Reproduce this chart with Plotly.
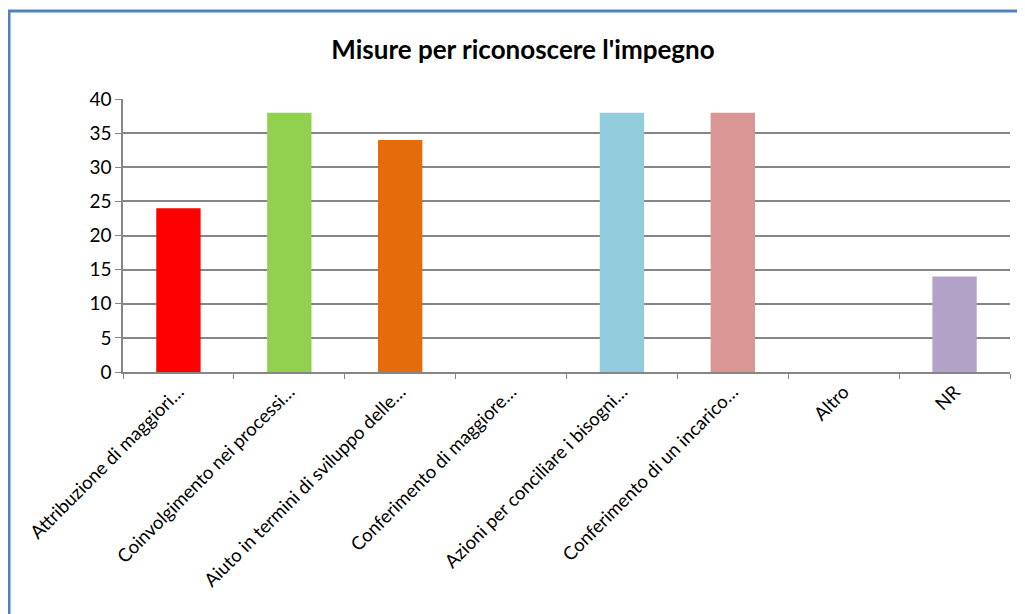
import plotly.graph_objects as go

categorie = [
    "Attribuzione di maggiori…",
    "Coinvolgimento nei processi…",
    "Aiuto in termini di sviluppo delle…",
    "Conferimento di maggiore…",
    "Azioni per conciliare i bisogni…",
    "Conferimento di un incarico…",
    "Altro",
    "NR",
]
valori = [24, 38, 34, 0, 38, 38, 0, 14]
colori = ["#FF0000", "#92D050", "#E46C0A", "#4F81BD", "#93CDDD", "#D99694", "#8EB4E3", "#B3A2C7"]
titolo = "<b>Misure per riconoscere l'impegno</b>"

fig = go.Figure()
fig.add_trace(go.Bar(x=categorie, y=valori, marker_color=colori, marker_line_width=0, width=0.4))

# la pagina ha un margine di 8px: tutto spostato di 8px
OFF = 8
W, H = 1025 - OFF, 614 - OFF
L, T = 123 - OFF, 99 - OFF
R = 1025 - 1010
B = 614 - 372
pw, ph = W - L - R, H - T - B

fig.update_layout(
    width=W, height=H,
    margin=dict(l=L, r=R, t=T, b=B),
    paper_bgcolor="white", plot_bgcolor="white",
    font=dict(family="Lato, Open Sans, sans-serif", size=18, color="black"),
    title=dict(text=titolo, x=(523 - OFF - L) / pw, xref="paper", xanchor="center",
               y=1 - (50 - OFF) / H, yanchor="middle", font=dict(size=26)),
    showlegend=False,
    bargap=0.6,
)
fig.update_xaxes(
    showline=True, linecolor="#868686", linewidth=1.5,
    ticks="outside", tickson="boundaries", ticklen=5, tickcolor="#868686",
    tickangle=-45, showgrid=False, tickfont=dict(size=18.5),
)
fig.update_yaxes(
    range=[0, 40], dtick=5, showline=True, linecolor="#868686", linewidth=1.5,
    ticks="outside", ticklen=6, tickcolor="#868686", tickfont=dict(size=19),
    showgrid=True, gridcolor="#868686", gridwidth=1.5, zeroline=False,
)

# cornice blu
fig.add_shape(type="rect", xref="paper", yref="paper",
              x0=(9 - OFF - L) / pw, x1=1 + (R + 20) / pw,
              y0=-(B + 20) / ph, y1=1 + (T - (11 - OFF)) / ph,
              line=dict(color="#4F81BD", width=3), layer="below")

fig.write_html("out.html")
